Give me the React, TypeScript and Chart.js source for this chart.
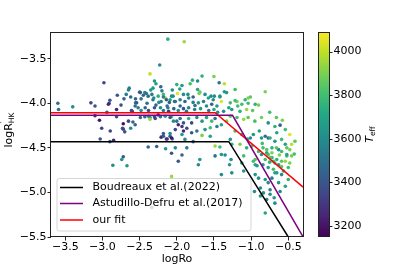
import React, { useEffect, useRef } from 'react';
import { Chart, registerables } from 'chart.js';

Chart.register(...registerables);

// ---- data ----
const logRo = [
  -2.12, -1.90, -2.23, -2.36, -2.98, -2.30, -2.28, -2.64, -2.65, -2.00,
  -2.32, -2.43, -2.50, -2.68, -2.90, -2.91, -3.155, -3.10, -2.80, -2.71,
  -2.555, -2.555, -2.52, -2.48, -2.60, -2.385, -2.32, -2.25, -2.18, -2.15,
  -2.09, -2.05, -2.03, -2.21, -2.30, -2.18, -2.11, -3.60, -3.59, -3.40,
  -2.94, -2.81, -2.61, -3.10, -3.04, -2.81, -2.65, -2.59, -2.72, -2.43,
  -2.36, -2.30, -2.25, -2.07, -2.00, -3.01, -2.62, -2.73, -3.03, -2.90,
  -2.72, -2.70, -2.85, -2.385, -2.27, -2.15, -2.07, -2.21, -2.13, -2.18,
  -2.09, -2.06, -2.72, -2.74, -2.86, -2.67, -2.07, -2.335, -1.66, -1.50,
  -1.82, -1.93, -1.72, -1.43, -1.36, -2.215, -1.99, -1.91, -1.69, -1.575,
  -1.51, -1.42, -1.33, -1.19, -1.40, -1.28, -2.49, -2.45, -2.41, -2.335,
  -2.31, -2.18, -2.14, -2.10, -2.07, -2.02, -1.955, -1.89, -1.84, -1.78,
  -1.755, -1.71, -1.64, -1.60, -1.53, -1.46, -1.955, -1.91, -1.84, -2.13,
  -2.22, -2.425, -2.54, -2.56, -2.49, -2.38, -2.36, -2.29, -2.22, -2.155,
  -2.09, -2.045, -1.955, -1.91, -1.84, -1.80, -1.73, -1.66, -1.60, -1.53,
  -1.485, -1.98, -1.93, -1.865, -1.91, -2.02, -2.09, -2.18, -2.14, -2.07,
  -1.93, -1.80, -1.73, -1.62, -1.55, -1.46, -1.40, -1.33, -1.28, -1.66,
  -1.55, -1.89, -1.78, -1.485, -1.42, -1.28, -1.26, -1.215, -1.08, -1.01,
  -1.125, -1.06, -0.945, -1.26, -1.37, -1.19, -1.10, -1.04, -0.95, -0.86,
  -0.77, -0.68, -0.61, -0.54, -0.48, -0.89, -0.97, -1.01, -0.86, -0.81,
  -0.77, -0.68, -0.59, -0.54, -0.48, -0.52, -0.63, -0.72, -1.215, -1.125,
  -1.15, -1.06, -0.99, -0.90, -0.86, -0.79, -0.72, -0.81, -0.945, -1.40,
  -1.35, -1.485, -1.69, -1.865, -1.93, -2.02, -1.10, -1.125, -0.68, -0.59,
  -0.48, -0.42, -0.41, -0.84, -0.79, -0.77, -0.72, -0.745, -0.70, -0.655,
  -0.63, -0.59, -0.54, -0.84, -0.77, -0.70, -0.655, -0.59, -0.565, -0.50,
  -0.455, -0.52, -0.59, -0.52, -0.455, -0.655, -0.745, -0.945, -0.90, -0.81,
  -0.72, -0.77, -0.63, -0.875, -0.745, -0.61, -0.54, -0.50, -1.29, -1.27,
  -1.40, -0.745, -1.98, -1.71, -1.26, -1.10, -0.97, -0.945, -0.955, -0.835,
  -0.79, -0.68, -0.81, -0.69, -0.875, -1.215, -0.81, -1.36, -1.72, -1.70,
  -1.85, -1.54, -1.495, -1.42, -1.04, -2.92, -2.56, -2.895, -1.79, -1.15,
  -1.04, -2.40, -2.28, -2.24, -2.12, -2.04, -1.98, -1.87, -1.76, -1.68,
  -1.57, -1.50, -1.45, -2.35, -2.20, -2.06, -1.96, -1.62, -1.78, -2.48,
  -2.62, -2.75, -2.38, -1.30, -1.18, -0.98, -0.90, -0.75, -0.66, -0.58,
  -0.85, -0.66, -0.62, -0.75, -0.68, -0.92, -1.05,
];
const logRHK = [
  -3.28, -3.31, -3.57, -3.67, -3.77, -3.75, -3.78, -3.83, -3.85, -3.79,
  -3.83, -3.88, -3.875, -3.90, -3.965, -4.00, -3.995, -4.03, -3.91, -3.95,
  -3.95, -3.995, -4.05, -4.08, -4.09, -3.92, -3.96, -3.92, -3.90, -3.94,
  -3.96, -3.92, -3.98, -3.98, -4.05, -4.08, -4.09, -4.00, -4.07, -4.04,
  -4.10, -4.07, -4.08, -4.14, -4.19, -4.15, -4.20, -4.21, -4.23, -4.15,
  -4.16, -4.15, -4.13, -4.15, -4.20, -4.28, -4.28, -4.28, -4.40, -4.43,
  -4.29, -4.32, -4.415, -4.49, -4.485, -4.51, -4.56, -4.38, -4.40, -4.34,
  -4.37, -4.40, -4.60, -4.63, -4.695, -4.70, -4.82, -5.17, -3.695, -3.70,
  -3.78, -3.80, -3.75, -3.77, -3.78, -3.815, -3.89, -3.90, -3.875, -3.94,
  -3.96, -3.93, -3.88, -3.98, -3.98, -3.995, -3.88, -3.91, -3.89, -3.90,
  -3.94, -3.93, -3.96, -3.99, -3.92, -3.98, -3.96, -3.98, -3.94, -3.99,
  -4.025, -3.995, -3.98, -4.03, -4.01, -4.03, -4.03, -4.06, -4.05, -4.03,
  -4.05, -4.05, -3.995, -4.03, -4.16, -4.145, -4.18, -4.17, -4.15, -4.145,
  -4.16, -4.20, -4.17, -4.22, -4.17, -4.22, -4.16, -4.20, -4.16, -4.20,
  -4.17, -4.24, -4.26, -4.28, -4.31, -4.295, -4.34, -4.37, -4.40, -4.39,
  -4.35, -4.33, -4.31, -4.295, -4.275, -4.26, -4.24, -4.20, -4.145, -4.36,
  -4.37, -4.405, -4.43, -4.48, -4.49, -4.405, -4.46, -3.97, -3.96, -3.93,
  -4.01, -4.07, -4.01, -4.07, -4.09, -4.16, -4.18, -4.16, -4.20, -4.16,
  -4.22, -4.26, -4.245, -4.295, -4.35, -4.31, -4.35, -4.39, -4.39, -4.37,
  -4.39, -4.425, -4.405, -4.46, -4.52, -4.59, -4.52, -4.50, -4.31, -4.35,
  -4.46, -4.50, -4.48, -4.54, -4.575, -4.555, -4.61, -4.63, -4.63, -4.575,
  -4.58, -4.59, -4.63, -4.50, -4.58, -4.50, -4.59, -4.67, -4.67, -4.65,
  -4.67, -4.57, -4.425, -4.50, -4.52, -4.575, -4.555, -4.61, -4.65, -4.63,
  -4.69, -4.71, -4.65, -4.69, -4.72, -4.74, -4.78, -4.80, -4.76, -4.72,
  -4.59, -4.575, -4.54, -4.50, -4.46, -4.33, -4.39, -4.80, -4.84, -4.855,
  -4.84, -4.89, -4.89, -4.95, -4.97, -4.99, -4.93, -4.855, -4.69, -4.63,
  -4.80, -5.02, -4.65, -4.69, -4.78, -4.76, -4.65, -4.69, -4.99, -5.005,
  -5.08, -5.12, -5.23, -5.06, -5.04, -3.845, -3.87, -3.87, -3.845, -3.89,
  -3.90, -3.92, -3.92, -3.92, -3.94, -4.01, -4.24, -4.31, -3.74, -4.09,
  -4.00, -4.00, -4.02, -3.99, -4.05, -4.06, -4.08, -4.09, -4.07, -4.06,
  -4.08, -4.07, -4.10, -3.85, -3.86, -3.85, -3.84, -3.90, -3.93, -3.95,
  -3.93, -4.02, -4.08, -4.05, -4.03, -4.08, -4.02, -4.10, -4.16, -4.19,
  -4.45, -4.50, -4.58, -4.66, -4.78, -4.70, -4.40,
];
const teff = [
  3750, 3950, 3600, 4000, 3350, 3650, 3700, 3550, 3550, 3750,
  3650, 3600, 3450, 3550, 3400, 3350, 3350, 3400, 3400, 3450,
  3450, 3550, 3550, 3600, 3250, 3450, 3500, 3750, 3800, 3950,
  3700, 3600, 3450, 3550, 3400, 3500, 3300, 3500, 3500, 3600,
  3400, 3250, 3350, 3250, 3200, 3400, 3350, 3450, 3200, 3450,
  3600, 3350, 3300, 3800, 3500, 3350, 3600, 3400, 3400, 3450,
  3350, 3400, 3250, 3450, 3450, 3650, 3400, 3250, 3250, 3450,
  3400, 3600, 3400, 3650, 3600, 3650, 3950, 3450, 3750, 3900,
  3800, 3650, 3600, 3500, 4000, 3450, 4050, 3600, 3850, 3700,
  3600, 3750, 3650, 3900, 4050, 3800, 3400, 3450, 3500, 3550,
  3600, 3550, 3400, 3450, 3600, 3500, 3550, 3450, 3600, 3550,
  3500, 3650, 3550, 3600, 3450, 3650, 3450, 3400, 3550, 3500,
  3600, 3450, 3400, 3500, 3450, 3550, 3950, 3350, 3500, 3650,
  3400, 3600, 3500, 3400, 3750, 3350, 3600, 3650, 3700, 3800,
  3500, 3250, 3300, 3350, 3250, 3350, 3600, 3400, 3300, 3200,
  3650, 3400, 3500, 3650, 3800, 3550, 3700, 3900, 3850, 3900,
  3700, 3600, 3500, 3950, 3800, 3650, 3750, 3800, 3750, 3850,
  3800, 3950, 3750, 3650, 3600, 3800, 3950, 3850, 3800, 3900,
  3600, 3750, 3450, 3800, 4050, 3700, 3650, 3600, 3650, 3500,
  3450, 3650, 3800, 3700, 3900, 3800, 3600, 3750, 3800, 3750,
  3900, 3750, 3800, 3800, 3650, 3700, 3750, 3800, 3850, 3650,
  3600, 3500, 3650, 3550, 3450, 3600, 3800, 3700, 3800, 3850,
  3900, 3800, 3850, 3800, 3850, 3800, 3900, 3850, 3800, 3750,
  3650, 3850, 3950, 3650, 3700, 3800, 3650, 3600, 3750, 3800,
  3900, 3700, 3800, 3850, 4000, 3700, 3750, 3650, 3600, 3650,
  3550, 3600, 3650, 3600, 3550, 3600, 3700, 3750, 3650, 3600,
  3600, 3600, 3400, 3600, 3600, 3650, 3800, 3700, 3600, 3600,
  3550, 3600, 3700, 3650, 3650, 3800, 3900, 3650, 3700, 3900,
  3600, 3600, 3600, 3650, 3900, 3250, 3450, 3350, 3750, 3750,
  3800, 3500, 3450, 3600, 3550, 3450, 3600, 3500, 3550, 3650,
  3500, 3700, 3600, 3650, 3550, 3600, 3700, 3600, 3450, 3500,
  3450, 3400, 3350, 3700, 3800, 3850, 3900, 3800, 3850, 3900,
  3800, 3850, 3900, 3750, 3700, 3650, 3700,
];

const boudreauxX = [-3.8, -1.3, -0.5];
const boudreauxY = [-4.43, -4.43, -5.5];
const astudilloX = [-3.8, -1.25, -0.3];
const astudilloY = [-4.135, -4.135, -5.5];
const fitX = [-3.8, -1.485, -0.3];
const fitY = [-4.105, -4.105, -4.94];

const seriesNames = ['Boudreaux et al.(2022)', 'Astudillo-Defru et al.(2017)', 'our fit'];
const seriesColors = ['#000000', '#800080', '#ff0000'];

const xTicks = [-3.5, -3.0, -2.5, -2.0, -1.5, -1.0, -0.5];
const yTicks = [-5.5, -5.0, -4.5, -4.0, -3.5];
const cbTicks = [3200, 3400, 3600, 3800, 4000];
const xRange = [-3.692, -0.302];
const yRange = [-5.5, -3.2];
const teffRange = [3150, 4090];

// ---- helpers ----
const FONT = 'DejaVu Sans';
const FS = 11;
const VIR = ['#440154', '#482475', '#414487', '#355f8d', '#2a788e', '#21918c', '#22a884', '#44bf70', '#7ad151', '#bddf26', '#fde725'];
function hexRgb(h: string) {
  return [parseInt(h.slice(1, 3), 16), parseInt(h.slice(3, 5), 16), parseInt(h.slice(5, 7), 16)];
}
function viridis(t: number) {
  const c = Math.max(0, Math.min(1, t)) * 10;
  const i = Math.min(9, Math.floor(c));
  const f = c - i;
  const a = hexRgb(VIR[i]);
  const b = hexRgb(VIR[i + 1]);
  const m = a.map((v, k) => Math.round(v + (b[k] - v) * f));
  return `rgb(${m[0]},${m[1]},${m[2]})`;
}
const teffColor = (t: number) => viridis((t - teffRange[0]) / (teffRange[1] - teffRange[0]));
const fmt = (v: number) => (v < 0 ? '\u2212' : '') + Math.abs(v).toFixed(1);

type Part = { t: string; s: number; dy: number; stack?: boolean; italic?: boolean };
function drawRich(ctx: CanvasRenderingContext2D, x: number, y: number, parts: Part[]) {
  ctx.save();
  ctx.translate(x, y);
  ctx.rotate(-Math.PI / 2);
  ctx.textBaseline = 'alphabetic';
  ctx.textAlign = 'left';
  const font = (p: Part) => `${p.italic ? 'italic ' : ''}${p.s}px "${FONT}"`;
  let total = 0;
  const widths: number[] = [];
  parts.forEach((p) => {
    ctx.font = font(p);
    const w = ctx.measureText(p.t).width;
    widths.push(w);
    if (!p.stack) total += w;
  });
  let cx = -total / 2;
  let lastX = cx;
  parts.forEach((p, i) => {
    ctx.font = font(p);
    if (p.stack) {
      ctx.fillText(p.t, lastX, p.dy);
    } else {
      lastX = cx;
      ctx.fillText(p.t, cx, p.dy);
      cx += widths[i];
    }
  });
  ctx.restore();
}

const decor = {
  id: 'decor',
  afterDraw(chart: any) {
    const ctx: CanvasRenderingContext2D = chart.ctx;
    const a = chart.chartArea;
    ctx.save();
    // frame
    ctx.strokeStyle = '#222';
    ctx.lineWidth = 1;
    ctx.strokeRect(Math.round(a.left) - 0.5, Math.round(a.top) + 0.5, Math.round(a.right - a.left) + 1, Math.round(a.bottom - a.top) - 1);

    // legend
    const lx = 57, ly = 178.5, lw = 194, lh = 52.5, r = 2.5;
    ctx.beginPath();
    ctx.moveTo(lx + r, ly);
    ctx.arcTo(lx + lw, ly, lx + lw, ly + lh, r);
    ctx.arcTo(lx + lw, ly + lh, lx, ly + lh, r);
    ctx.arcTo(lx, ly + lh, lx, ly, r);
    ctx.arcTo(lx, ly, lx + lw, ly, r);
    ctx.closePath();
    ctx.fillStyle = 'rgba(255,255,255,0.8)';
    ctx.fill();
    ctx.strokeStyle = '#d6d6d6';
    ctx.lineWidth = 1;
    ctx.stroke();
    const rows = [187.5, 203.5, 220];
    ctx.font = `${FS}px "${FONT}"`;
    ctx.textBaseline = 'middle';
    ctx.textAlign = 'left';
    seriesNames.forEach((n, i) => {
      ctx.strokeStyle = seriesColors[i];
      ctx.lineWidth = 1.5;
      ctx.beginPath();
      ctx.moveTo(60, rows[i]);
      ctx.lineTo(83, rows[i]);
      ctx.stroke();
      ctx.fillStyle = '#000';
      ctx.fillText(n, 92.5, rows[i]);
    });

    // axis labels
    ctx.fillStyle = '#000';
    ctx.font = `${FS}px "${FONT}"`;
    ctx.textAlign = 'center';
    ctx.textBaseline = 'alphabetic';
    ctx.fillText('logRo', (a.left + a.right) / 2, 262);
    const midY = (a.top + a.bottom) / 2;
    drawRich(ctx, 11.5, midY, [
      { t: 'logR', s: FS, dy: 0 },
      { t: '\u2032', s: 8, dy: -4.5 },
      { t: 'HK', s: 7.5, dy: 2.5, stack: true },
    ]);

    // colorbar
    const cx0 = 319, cx1 = 329;
    const top = a.top, bot = a.bottom;
    const grad = ctx.createLinearGradient(0, bot, 0, top);
    for (let k = 0; k <= 20; k++) grad.addColorStop(k / 20, viridis(k / 20));
    ctx.fillStyle = grad;
    ctx.fillRect(cx0, top, cx1 - cx0, bot - top);
    ctx.strokeStyle = '#222';
    ctx.lineWidth = 1;
    ctx.strokeRect(cx0 - 0.5, top + 0.5, cx1 - cx0 + 1, bot - top - 1);
    ctx.font = `${FS}px "${FONT}"`;
    ctx.fillStyle = '#000';
    ctx.textAlign = 'left';
    ctx.textBaseline = 'middle';
    cbTicks.forEach((t) => {
      const y = bot - ((t - teffRange[0]) / (teffRange[1] - teffRange[0])) * (bot - top);
      ctx.beginPath();
      ctx.moveTo(cx1, Math.round(y) + 0.5);
      ctx.lineTo(cx1 + 3.5, Math.round(y) + 0.5);
      ctx.stroke();
      ctx.fillText(String(t), cx1 + 4.5, y);
    });
    drawRich(ctx, 372.5, midY, [
      { t: 'T', s: FS, dy: 0, italic: true },
      { t: 'eff', s: 7.5, dy: 2.5 },
    ]);
    ctx.restore();
  },
};

function lineData(xs: number[], ys: number[]) {
  return xs.map((x, i) => ({ x, y: ys[i] }));
}

export default function App() {
  const ref = useRef<HTMLCanvasElement>(null);
  useEffect(() => {
    Chart.defaults.font.family = FONT;
    const points = logRo.map((x, i) => ({ x, y: logRHK[i] }));
    const lineCommon = { showLine: true, pointRadius: 0, borderWidth: 1.5, fill: false, order: 0, clip: 0 } as any;
    const chart = new Chart(ref.current as HTMLCanvasElement, {
      type: 'scatter',
      data: {
        datasets: [
          { ...lineCommon, label: seriesNames[0], data: lineData(boudreauxX, boudreauxY), borderColor: seriesColors[0] },
          { ...lineCommon, label: seriesNames[1], data: lineData(astudilloX, astudilloY), borderColor: seriesColors[1] },
          { ...lineCommon, label: seriesNames[2], data: lineData(fitX, fitY), borderColor: seriesColors[2] },
          {
            label: 'stars',
            data: points,
            pointRadius: 1.8,
            pointBorderWidth: 0,
            pointBackgroundColor: teff.map(teffColor),
            order: 10,
            clip: 0,
          } as any,
        ],
      },
      options: {
        animation: false,
        responsive: false,
        devicePixelRatio: 1,
        events: [],
        layout: { padding: { left: 0, top: 32, right: 104, bottom: 0 } },
        plugins: { legend: { display: false }, tooltip: { enabled: false } },
        scales: {
          x: {
            type: 'linear',
            min: xRange[0],
            max: xRange[1],
            afterBuildTicks: (s: any) => { s.ticks = xTicks.map((v) => ({ value: v })); },
            afterFit: (s: any) => { s.height = 34; },
            grid: { drawOnChartArea: false, drawTicks: true, tickLength: 3.5, color: '#222', lineWidth: 1 },
            border: { display: false },
            ticks: { autoSkip: false, maxRotation: 0, padding: 0, color: '#000', font: { size: FS, family: FONT }, callback: (v: any) => fmt(Number(v)) },
          },
          y: {
            type: 'linear',
            min: yRange[0],
            max: yRange[1],
            afterBuildTicks: (s: any) => { s.ticks = yTicks.map((v) => ({ value: v })); },
            afterFit: (s: any) => { s.width = 51; },
            grid: { drawOnChartArea: false, drawTicks: true, tickLength: 3.5, color: '#222', lineWidth: 1 },
            border: { display: false },
            ticks: { autoSkip: false, padding: 1, color: '#000', font: { size: FS, family: FONT }, callback: (v: any) => fmt(Number(v)) },
          },
        },
      },
      plugins: [decor],
    } as any);
    return () => chart.destroy();
  }, []);
  return (
    <div style={{ position: 'fixed', left: 0, top: 0, width: 407, height: 271, background: '#fff' }}>
      <canvas ref={ref} width={407} height={271} style={{ display: 'block', width: 407, height: 271 }} />
    </div>
  );
}
